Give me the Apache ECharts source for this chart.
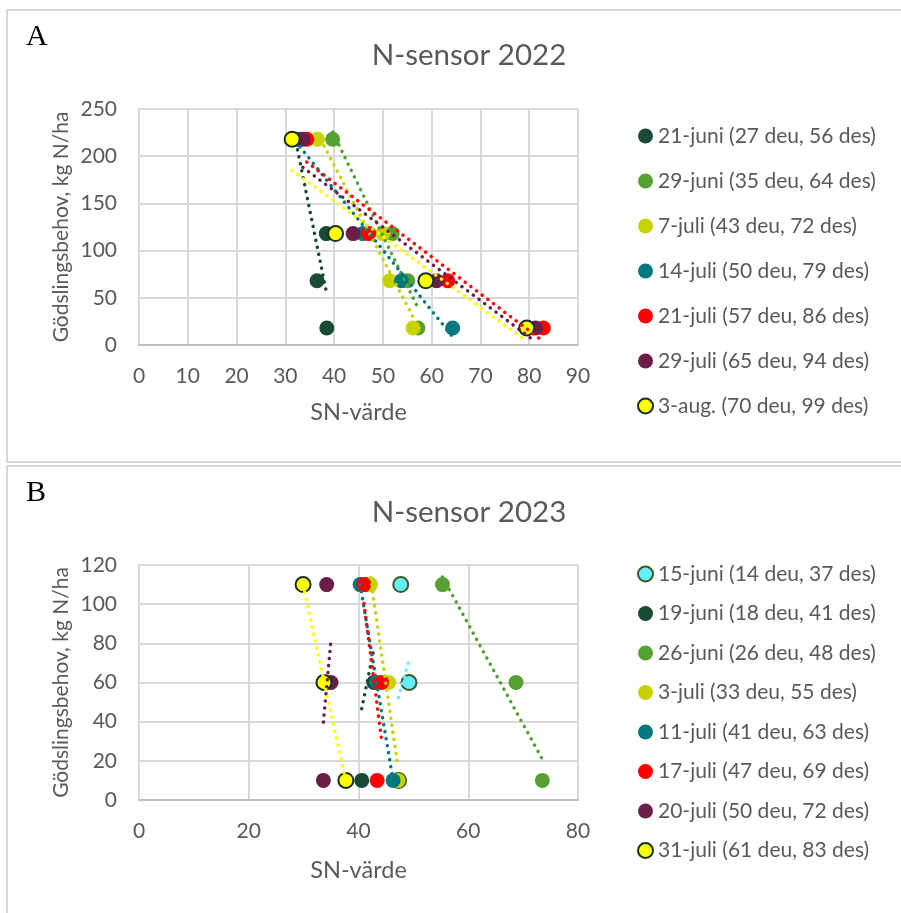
<!DOCTYPE html>
<html>
<head>
<meta charset="utf-8">
<script src="https://cdn.jsdelivr.net/npm/echarts@6/dist/echarts.min.js"></script>
<style>
html, body { margin: 0; padding: 0; background: #fff; }
#main { width: 901px; height: 913px; }
</style>
</head>
<body>
<div id="main"></div>
<script>
// N-sensor 2022 - gödslingsbehov (y) och SN-värde (x) per mätdatum
var behov2022 = [218, 118, 68, 18];
var namn2022 = ['21-juni (27 deu, 56 des)', '29-juni (35 deu, 64 des)', '7-juli (43 deu, 72 des)',
    '14-juli (50 deu, 79 des)', '21-juli (57 deu, 86 des)', '29-juli (65 deu, 94 des)', '3-aug. (70 deu, 99 des)'];
var sn_21juni = [32.5, 38.4, 36.5, 38.5];
var sn_29juni = [39.7, 51.9, 55.1, 57.2];
var sn_7juli = [36.6, 50.0, 51.4, 56.2];
var sn_14juli = [33.0, 45.9, 53.8, 64.3];
var sn_21juli = [34.4, 47.1, 63.3, 82.9];
var sn_29juli = [33.6, 43.9, 61.0, 81.3];
var sn_3aug = [31.4, 40.3, 58.8, 79.5];

// N-sensor 2023
var behov2023 = [110, 60, 10];
var namn2023 = ['15-juni (14 deu, 37 des)', '19-juni (18 deu, 41 des)', '26-juni (26 deu, 48 des)',
    '3-juli (33 deu, 55 des)', '11-juli (41 deu, 63 des)', '17-juli (47 deu, 69 des)',
    '20-juli (50 deu, 72 des)', '31-juli (61 deu, 83 des)'];
var sn_15juni = [47.7, 49.2, 47.3];
var sn_19juni = [41.3, 42.8, 40.6];
var sn_26juni = [55.3, 68.7, 73.5];
var sn_3juli = [42.2, 45.5, 47.2];
var sn_11juli = [40.3, 43.3, 46.3];
var sn_17juli = [41.0, 44.2, 43.4];
var sn_20juli = [34.2, 35.0, 33.6];
var sn_31juli = [29.9, 33.7, 37.7];

var xTicks2022 = [0, 90, 10];
var yTicks2022 = [0, 250, 50];
var xTicks2023 = [0, 80, 20];
var yTicks2023 = [0, 120, 20];

//färger
var DKGREEN = '#184a34', GREEN = '#56a032', YGREEN = '#c5d300', TEAL = '#00787e',
    RED = '#ff0000', PURPLE = '#6a1e48', YELLOW = '#ffff00', CYAN = '#66eeff';

var serie2022 = [
    {x: sn_21juni, c: DKGREEN},
    {x: sn_29juni, c: GREEN},
    {x: sn_7juli, c: YGREEN},
    {x: sn_14juli, c: TEAL},
    {x: sn_21juli, c: RED},
    {x: sn_29juli, c: PURPLE},
    {x: sn_3aug, c: YELLOW, b: '#16301f'}
];
var serie2023 = [
    {x: sn_15juni, c: CYAN, b: '#3b5a26'},
    {x: sn_19juni, c: DKGREEN},
    {x: sn_26juni, c: GREEN},
    {x: sn_3juli, c: YGREEN},
    {x: sn_11juli, c: TEAL},
    {x: sn_17juli, c: RED},
    {x: sn_20juli, c: PURPLE},
    {x: sn_31juli, c: YELLOW, b: '#16301f'}
];

var GREY_TXT = '#595959';
var FONT = 'Lato';

// linjär trendlinje (minsta kvadrat) över x-intervallet
function trend(xs, ys) {
    var n = xs.length, mx = 0, my = 0;
    for (var i = 0; i < n; i++) { mx += xs[i]; my += ys[i]; }
    mx /= n; my /= n;
    var sxy = 0, sxx = 0;
    for (var j = 0; j < n; j++) {
        sxy += (xs[j] - mx) * (ys[j] - my);
        sxx += (xs[j] - mx) * (xs[j] - mx);
    }
    var b = sxy / sxx, a = my - b * mx;
    var lo = Math.min.apply(null, xs), hi = Math.max.apply(null, xs);
    return [[lo, a + b * lo], [hi, a + b * hi]];
}

function buildSeries(list, names, ys, gi) {
    var out = [];
    list.forEach(function (s, i) {
        out.push({
            name: names[i],
            type: 'scatter',
            xAxisIndex: gi, yAxisIndex: gi,
            symbolSize: 15,
            z: 2,
            itemStyle: {color: s.c, opacity: 1, borderColor: s.b || s.c, borderWidth: s.b ? 2 : 0},
            data: s.x.map(function (v, k) { return [v, ys[k]]; })
        });
    });
    list.forEach(function (s, i) {
        out.push({
            name: 'trend ' + gi + '-' + i,
            type: 'line',
            xAxisIndex: gi, yAxisIndex: gi,
            showSymbol: false, silent: true,
            z: 3,
            lineStyle: {color: s.c, width: 3.5, type: [0.1, 7], cap: 'round'},
            data: trend(s.x, ys)
        });
    });
    return out;
}

function xAxis(gi, t, gap) {
    return {
        type: 'value', gridIndex: gi, min: t[0], max: t[1], interval: t[2],
        name: 'SN-värde', nameLocation: 'middle', nameGap: gap,
        nameTextStyle: {color: GREY_TXT, fontSize: 23.5, fontFamily: FONT},
        axisLine: {show: true, lineStyle: {color: '#bfbfbf', width: 2}},
        axisTick: {show: false},
        axisLabel: {color: GREY_TXT, fontSize: 21, fontFamily: FONT, margin: 21},
        splitLine: {show: true, lineStyle: {color: '#d9d9d9', width: 2}}
    };
}
function yAxis(gi, t) {
    return {
        type: 'value', gridIndex: gi, min: t[0], max: t[1], interval: t[2],
        name: 'Gödslingsbehov, kg N/ha', nameLocation: 'middle', nameGap: 67,
        nameTextStyle: {color: GREY_TXT, fontSize: 21, fontFamily: FONT},
        axisLine: {show: true, lineStyle: {color: '#d9d9d9', width: 2}},
        axisTick: {show: false},
        axisLabel: {color: GREY_TXT, fontSize: 21, fontFamily: FONT, margin: 22},
        splitLine: {show: true, lineStyle: {color: '#d9d9d9', width: 2}}
    };
}
function legend(names, top, gap) {
    return {
        data: names, orient: 'vertical', left: 632, top: top,
        icon: 'circle', itemWidth: 15, itemHeight: 15, itemGap: gap,
        selectedMode: false,
        textStyle: {color: GREY_TXT, fontSize: 21, fontFamily: FONT, lineHeight: 22}
    };
}

var chart = echarts.init(document.getElementById('main'));
chart.setOption({
    backgroundColor: '#fff',
    animation: false,
    title: [
        {text: 'N-sensor 2022', left: 464, top: 35, textAlign: 'center',
            textStyle: {color: GREY_TXT, fontSize: 29.5, fontWeight: 'normal', fontFamily: FONT}},
        {text: 'N-sensor 2023', left: 464, top: 492, textAlign: 'center',
            textStyle: {color: GREY_TXT, fontSize: 29.5, fontWeight: 'normal', fontFamily: FONT}}
    ],
    graphic: [
        {type: 'rect', shape: {x: 7, y: 10, width: 910, height: 452}, style: {fill: 'none', stroke: '#d9d9d9', lineWidth: 2}, z: -1},
        {type: 'rect', shape: {x: 7, y: 466, width: 910, height: 460}, style: {fill: 'none', stroke: '#d9d9d9', lineWidth: 2}, z: -1},
        {type: 'text', left: 26, top: 22, style: {text: 'A', font: '30px "Liberation Serif"', fill: '#000'}},
        {type: 'text', left: 26, top: 478, style: {text: 'B', font: '30px "Liberation Serif"', fill: '#000'}}
    ],
    grid: [
        {left: 139, top: 109, width: 439, height: 236},
        {left: 139, top: 565, width: 439, height: 235}
    ],
    xAxis: [xAxis(0, xTicks2022, 55), xAxis(1, xTicks2023, 58)],
    yAxis: [yAxis(0, yTicks2022), yAxis(1, yTicks2023)],
    legend: [legend(namn2022, 120, 23), legend(namn2023, 558, 17.5)],
    series: buildSeries(serie2022, namn2022, behov2022, 0)
        .concat(buildSeries(serie2023, namn2023, behov2023, 1))
});
</script>
</body>
</html>
